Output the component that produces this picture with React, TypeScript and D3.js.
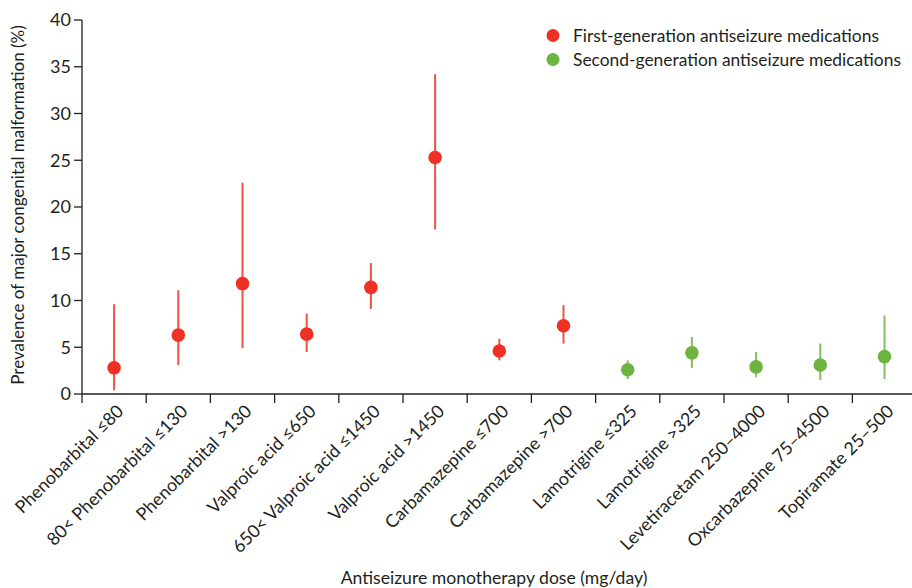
import React from "react";
import * as d3 from "d3";

const categories = [
  "Phenobarbital ≤80",
  "80< Phenobarbital ≤130",
  "Phenobarbital >130",
  "Valproic acid ≤650",
  "650< Valproic acid ≤1450",
  "Valproic acid >1450",
  "Carbamazepine ≤700",
  "Carbamazepine >700",
  "Lamotrigine ≤325",
  "Lamotrigine >325",
  "Levetiracetam 250–4000",
  "Oxcarbazepine 75–4500",
  "Topiramate 25–500",
];
const generation = [1, 1, 1, 1, 1, 1, 1, 1, 2, 2, 2, 2, 2];
const prevalence = [2.8, 6.3, 11.8, 6.4, 11.4, 25.3, 4.6, 7.3, 2.6, 4.4, 2.9, 3.1, 4.0];
const lower = [0.4, 3.1, 4.9, 4.5, 9.1, 17.6, 3.6, 5.4, 1.6, 2.8, 1.8, 1.5, 1.6];
const upper = [9.6, 11.1, 22.6, 8.6, 14.0, 34.2, 5.9, 9.5, 3.6, 6.1, 4.5, 5.4, 8.4];
const yTicks = [0, 5, 10, 15, 20, 25, 30, 35, 40];
const legendLabels = [
  "First-generation antiseizure medications",
  "Second-generation antiseizure medications",
];

const RED = "#ee3124";
const GREEN = "#6db33f";
const TEXT = "#231f20";
const FONT = "Lato, 'Open Sans', sans-serif";

export default function App() {
  const W = 912;
  const H = 588;
  const x0 = 82;
  const step = 64.2;
  const x = d3
    .scaleBand<string>()
    .domain(categories)
    .range([x0, x0 + step * categories.length])
    .paddingInner(0)
    .paddingOuter(0);
  const y = d3.scaleLinear().domain([0, 40]).range([394, 20]);
  const color = (g: number) => (g === 1 ? RED : GREEN);
  const cx = (c: string) => (x(c) as number) + x.bandwidth() / 2;

  return (
    <svg
      width={W}
      height={H}
      style={{ position: "absolute", left: 0, top: 0, background: "#fff" }}
      fontFamily={FONT}
    >
      {/* y axis */}
      <line x1={x0} x2={x0} y1={y(40)} y2={y(0)} stroke={TEXT} strokeWidth={1.3} />
      {yTicks.map((t) => (
        <g key={t}>
          <line x1={x0 - 8} x2={x0} y1={y(t)} y2={y(t)} stroke={TEXT} strokeWidth={1.3} />
          <text
            x={x0 - 11}
            y={y(t)}
            dy="0.36em"
            textAnchor="end"
            fontSize={18}
            fill={TEXT}
          >
            {t}
          </text>
        </g>
      ))}
      {/* x axis */}
      <line x1={x0} x2={W} y1={y(0)} y2={y(0)} stroke={TEXT} strokeWidth={1.3} />
      {categories.map((c) => (
        <line
          key={"t" + c}
          x1={x(c) as number}
          x2={x(c) as number}
          y1={y(0)}
          y2={y(0) + 9}
          stroke={TEXT}
          strokeWidth={1.3}
        />
      ))}
      {categories.map((c) => (
        <text
          key={"l" + c}
          transform={`translate(${cx(c) + 6},${y(0) + 14}) rotate(-45)`}
          textAnchor="end"
          dy="0.35em"
          fontSize={17.8}
          fill={TEXT}
        >
          {c}
        </text>
      ))}
      {/* error bars and points */}
      {categories.map((c, i) => (
        <g key={"p" + c}>
          <line
            x1={cx(c)}
            x2={cx(c)}
            y1={y(lower[i])}
            y2={y(upper[i])}
            stroke={color(generation[i])}
            strokeWidth={2}
            strokeOpacity={0.85}
          />
          <circle cx={cx(c)} cy={y(prevalence[i])} r={6.8} fill={color(generation[i])} />
        </g>
      ))}
      {/* legend */}
      {legendLabels.map((l, i) => (
        <g key={l} transform={`translate(553,${35.5 + i * 24})`}>
          <circle r={6.5} fill={i === 0 ? RED : GREEN} />
          <text x={20} dy="0.35em" fontSize={17.4} fill={TEXT}>
            {l}
          </text>
        </g>
      ))}
      {/* axis titles */}
      <text
        x={494}
        y={578}
        dy="0.35em"
        textAnchor="middle"
        fontSize={17.6}
        fill={TEXT}
      >
        Antiseizure monotherapy dose (mg/day)
      </text>
      <text
        transform={`translate(18,${205}) rotate(-90)`}
        textAnchor="middle"
        dy="0.35em"
        fontSize={17}
        fill={TEXT}
      >
        Prevalence of major congenital malformation (%)
      </text>
    </svg>
  );
}
